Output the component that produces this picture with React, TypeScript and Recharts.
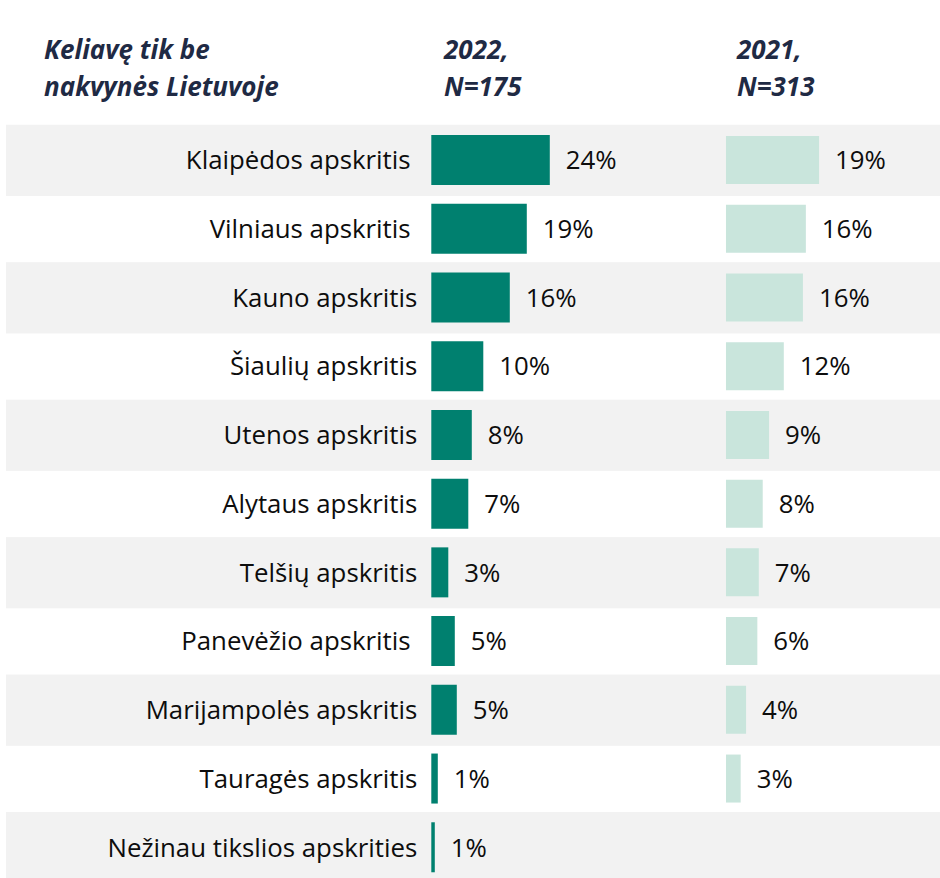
import { BarChart, Bar, XAxis, YAxis, ReferenceArea, LabelList } from "recharts";

// trailing spaces are kept on purpose, the source labels have them
const regions = [
  "Klaipėdos apskritis ",
  "Vilniaus apskritis ",
  "Kauno apskritis",
  "Šiaulių apskritis",
  "Utenos apskritis",
  "Alytaus apskritis",
  "Telšių apskritis",
  "Panevėžio apskritis ",
  "Marijampolės apskritis",
  "Tauragės apskritis",
  "Nežinau tikslios apskrities",
];

const values2022 = [23.7, 19.1, 15.7, 10.4, 8.1, 7.4, 3.4, 4.7, 5.1, 1.3, 0.7];
const values2021: (number | null)[] = [19.0, 16.3, 15.7, 11.8, 8.8, 7.5, 6.7, 6.4, 4.1, 3.0, null];

const titleLines = ["Keliavę tik be", "nakvynės Lietuvoje"];
const head2022 = ["2022,", "N=175"];
const head2021 = ["2021,", "N=313"];

const data = regions.map((name, i) => ({
  name,
  v2022: values2022[i],
  v2021: values2021[i],
}));

const FONT = "'Open Sans', Lato, sans-serif";
const DARK = "#00806f";
const LIGHT = "#c9e5dc";
const BAND = "#f2f2f2";
const HEAD = "#1f2a44";
const LABEL_SIZE = 25.8;

const NameLabel = (props: any) => {
  const vb = props.viewBox || props;
  if (props.value == null) return null;
  return (
    <text
      x={vb.x - 14}
      y={vb.y + vb.height / 2}
      dy="0.36em"
      textAnchor="end"
      fontFamily={FONT}
      fontSize={LABEL_SIZE}
      fill="#0d0d0d"
      style={{ whiteSpace: "pre" }}
    >
      {props.value}
    </text>
  );
};

const ValueLabel = (props: any) => {
  const vb = props.viewBox || props;
  if (props.value == null) return null;
  return (
    <text
      x={vb.x + vb.width + 16}
      y={vb.y + vb.height / 2}
      dy="0.36em"
      textAnchor="start"
      fontFamily={FONT}
      fontSize={LABEL_SIZE}
      fill="#0d0d0d"
    >
      {Math.round(props.value)}%
    </text>
  );
};

// gray rows are a touch taller than the white ones in the source
const BandShape = (props: any) => (
  <rect x={props.x} y={props.y - 1.25} width={props.width} height={props.height + 2.5} fill={BAND} />
);

const Header = ({ lines, left }: { lines: string[]; left: number }) => (
  <div
    style={{
      position: "absolute",
      left,
      top: 31,
      fontFamily: FONT,
      fontStyle: "italic",
      fontWeight: 700,
      fontSize: 26,
      lineHeight: "37px",
      color: HEAD,
      whiteSpace: "nowrap",
    }}
  >
    {lines.map((l) => (
      <div key={l}>{l}</div>
    ))}
  </div>
);

export default function App() {
  return (
    <div
      style={{
        position: "absolute",
        left: 0,
        top: 0,
        width: 940,
        height: 878,
        overflow: "hidden",
        background: "#fff",
      }}
    >
      <Header lines={titleLines} left={44} />
      <Header lines={head2022} left={444} />
      <Header lines={head2021} left={737} />
      <div style={{ position: "absolute", left: 0, top: 0 }}>
        <BarChart
          layout="vertical"
          width={940}
          height={882}
          data={data}
          margin={{ top: 126, right: 0, bottom: 0, left: 6 }}
        >
          <XAxis xAxisId="a" type="number" domain={[-85.06, 101.74]} hide allowDataOverflow />
          <XAxis xAxisId="b" type="number" domain={[-146.9, 43.67]} hide allowDataOverflow />
          <YAxis yAxisId="a" type="category" dataKey="name" hide />
          <YAxis yAxisId="b" type="category" dataKey="name" hide />
          {regions
            .filter((_, i) => i % 2 === 0)
            .map((r) => (
              <ReferenceArea
                key={r}
                xAxisId="a"
                yAxisId="a"
                y1={r}
                y2={r}
                fill={BAND}
                fillOpacity={1}
                stroke="none"
                ifOverflow="visible"
                shape={BandShape}
              />
            ))}
          <Bar xAxisId="a" yAxisId="a" dataKey="v2022" fill={DARK} barSize={50} isAnimationActive={false}>
            <LabelList dataKey="name" content={NameLabel} />
            <LabelList dataKey="v2022" content={ValueLabel} />
          </Bar>
          <Bar xAxisId="b" yAxisId="b" dataKey="v2021" fill={LIGHT} barSize={48} isAnimationActive={false}>
            <LabelList dataKey="v2021" content={ValueLabel} />
          </Bar>
        </BarChart>
      </div>
    </div>
  );
}
